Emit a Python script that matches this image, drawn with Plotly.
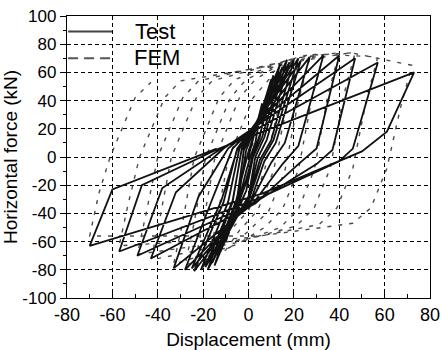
import plotly.graph_objects as go

# ---------------- Test hysteresis (one entry per loading cycle) ----------------
# positive peak
t_pk_x = [6, 10, 11, 14, 15, 17, 18, 20, 22, 23, 27, 33, 40, 47, 57, 73]
t_pk_y = [38, 55, 58, 66, 64, 69, 67, 69, 70, 68, 71, 72, 72, 70, 67, 60]
# end of steep unloading from the positive peak
t_un_x = [3, 5, 5, 5, 6, 7, 8, 10, 11, 12, 16, 22, 30, 37, 46, 61]
t_un_y = [10, 14, 15, 16, 14, 14, 12, 12, 12, 10, 10, 8, 6, 5, 6, 18]
t_un2_x = [1, 2, 2, 2, 2, 3, 4, 5, 6, 7, 10, 15, 22, 30, 40, 50]
t_un2_y = [1, 2, 2, 2, 0, 0, -1, -2, -2, -3, -4, -5, -5, -5, -3, 4]
# knee of the branch heading to the negative peak
t_lk_x = [-1, -1, -1, -1, -1, 0, 0, 0, 0, 1, 1, 2, 3, 4, 5, 6]
t_lk_y = [-10, -16, -18, -24, -24, -28, -28, -30, -31, -31, -32, -33, -33, -31, -29, -26]
# negative peak
t_ng_x = [-6, -10, -12, -15, -16, -18, -19, -21, -24, -25, -28, -33, -43, -49, -57, -70]
t_ng_y = [-42, -60, -66, -77, -75, -80, -78, -80, -81, -79, -80, -79, -72, -70, -67, -63]
# end of steep unloading from the negative peak
t_rl_x = [-3, -4, -4, -5, -5, -7, -7, -9, -11, -12, -16, -22, -32, -38, -47, -60]
t_rl_y = [-14, -22, -25, -30, -29, -32, -31, -32, -32, -31, -30, -28, -25, -22, -20, -23]
# knee of the reloading branch
t_uk_x = [0, 0, -1, -2, -2, -3, -3, -4, -5, -5, -7, -9, -11, -12, -13, -14]
t_uk_y = [3, 4, 5, 6, 5, 6, 5, 6, 6, 5, 6, 6, 6, 6, 6, 6]

# ---------------- FEM hysteresis (one entry per cycle) ----------------
fem_tm_x = [10, 10, 12, 15, 20, 25, 30, 45]
fem_tm_y = [50, 60, 64, 67, 70, 72, 73, 74]
fem_pk_x = [17, 22, 27, 33, 40, 47, 57, 72]
fem_pk_y = [63, 67, 70, 72, 74, 74, 71, 65]
fem_u1_x = [13, 17, 22, 28, 35, 42, 52, 67]
fem_u1_y = [33, 37, 40, 42, 44, 44, 41, 35]
fem_u2_x = [7, 11, 16, 22, 29, 36, 46, 61]
fem_u2_y = [-10, -10, -10, -9, -9, -8, -8, -8]
fem_u3_x = [0, 4, 9, 15, 22, 29, 39, 54]
fem_u3_y = [-38, -38, -38, -37, -37, -36, -36, -36]
fem_u4_x = [-8, -4, 1, 7, 14, 21, 31, 46]
fem_u4_y = [-52, -52, -51, -50, -50, -49, -48, -47]
fem_bm_x = [-12, -10, -8, -5, -3, 0, 2, 5]
fem_bm_y = [-66, -66, -64, -62, -60, -58, -57, -56]
fem_ng_x = [-18, -24, -28, -33, -43, -49, -57, -70]
fem_ng_y = [-75, -77, -77, -76, -73, -69, -63, -56]
fem_r1_x = [-14, -20, -24, -29, -39, -45, -53, -66]
fem_r1_y = [-45, -47, -47, -46, -43, -39, -33, -26]
fem_r2_x = [-9, -15, -19, -24, -34, -40, -48, -61]
fem_r2_y = [-2, -2, -1, -1, 0, 0, 0, 0]
fem_r3_x = [2, -4, -8, -13, -23, -29, -37, -50]
fem_r3_y = [42, 42, 42, 42, 42, 42, 42, 42]
fem_r4_x = [9, 3, -1, -6, -16, -22, -30, -43]
fem_r4_y = [55, 55, 55, 55, 54, 54, 54, 53]

x_ticks = [-80, -60, -40, -20, 0, 20, 40, 60, 80]
x_tick_labels = ["-80", "-60", "-40", "-20", "0", "20", "40", "60", "80"]
y_ticks = [-100, -80, -60, -40, -20, 0, 20, 40, 60, 80, 100]
y_tick_labels = ["-100", "-80", "-60", "-40", "-20", "0", "20", "40", "60", "80", "100"]


def chain(start, *series):
    """Join per-cycle vertex arrays into one continuous load path."""
    xs, ys = [start[0]], [start[1]]
    n = len(series[0][0])
    for i in range(n):
        for sx, sy in series:
            xs.append(sx[i])
            ys.append(sy[i])
    return xs, ys


test_x, test_y = chain(
    (0, 0),
    (t_pk_x, t_pk_y), (t_un_x, t_un_y), (t_un2_x, t_un2_y), (t_lk_x, t_lk_y),
    (t_ng_x, t_ng_y), (t_rl_x, t_rl_y), (t_uk_x, t_uk_y),
)
fem_x, fem_y = chain(
    (0, 0),
    (fem_tm_x, fem_tm_y), (fem_pk_x, fem_pk_y), (fem_u1_x, fem_u1_y),
    (fem_u2_x, fem_u2_y), (fem_u3_x, fem_u3_y), (fem_u4_x, fem_u4_y),
    (fem_bm_x, fem_bm_y), (fem_ng_x, fem_ng_y), (fem_r1_x, fem_r1_y),
    (fem_r2_x, fem_r2_y), (fem_r3_x, fem_r3_y), (fem_r4_x, fem_r4_y),
)

FONT = "Liberation Sans, Arial, sans-serif"

fig = go.Figure()
fig.add_trace(go.Scatter(
    x=fem_x, y=fem_y, mode="lines", name="FEM",
    line=dict(color="#4a4a4a", width=1.4, dash="4px,7px"),
    showlegend=False,
))
fig.add_trace(go.Scatter(
    x=test_x, y=test_y, mode="lines", name="Test",
    line=dict(color="#111111", width=1.8),
    showlegend=False,
))

# legend drawn inside the top-left corner of the plot
fig.add_shape(type="line", xref="paper", yref="paper",
              x0=0.003, x1=0.124, y0=0.945, y1=0.945,
              line=dict(color="#444444", width=2))
fig.add_shape(type="line", xref="paper", yref="paper",
              x0=0.003, x1=0.124, y0=0.85, y1=0.85,
              line=dict(color="#555555", width=2, dash="10px,6px"))
fig.add_annotation(text="Test", xref="paper", yref="paper", x=0.182, y=0.945,
                   xanchor="left", yanchor="middle", showarrow=False,
                   font=dict(family=FONT, size=22, color="black"))
fig.add_annotation(text="FEM", xref="paper", yref="paper", x=0.179, y=0.852,
                   xanchor="left", yanchor="middle", showarrow=False,
                   font=dict(family=FONT, size=22, color="black"))

fig.update_layout(
    width=441, height=350,
    margin=dict(l=67, r=11, t=16, b=52),
    paper_bgcolor="white", plot_bgcolor="white",
    font=dict(family=FONT, color="black"),
    showlegend=False,
)
fig.update_xaxes(
    range=[-80, 80], tickvals=x_ticks, ticktext=x_tick_labels, automargin=False,
    showline=True, linecolor="black", linewidth=1.4, mirror=True,
    ticks="inside", ticklen=5, tickcolor="black", tickwidth=1,
    showgrid=True, gridcolor="black", gridwidth=1, griddash="4px,3px",
    zeroline=False, tickfont=dict(size=18),
    minor=dict(dtick=10, ticks="inside", ticklen=4, tickcolor="black", showgrid=False),
    title=dict(text="Displacement (mm)", font=dict(size=19), standoff=8),
)
fig.update_yaxes(
    range=[-100, 100], tickvals=y_ticks, ticktext=y_tick_labels, automargin=False,
    showline=True, linecolor="black", linewidth=1.4, mirror=True,
    ticks="outside", ticklen=6, tickcolor="black", tickwidth=1,
    showgrid=True, gridcolor="black", gridwidth=1, griddash="4px,3px",
    zeroline=False, tickfont=dict(size=17),
    minor=dict(dtick=10, ticks="outside", ticklen=3, tickcolor="black", showgrid=False),
    title=dict(text="Horizontal force (kN)", font=dict(size=19), standoff=2),
)

fig.write_html("out.html")
